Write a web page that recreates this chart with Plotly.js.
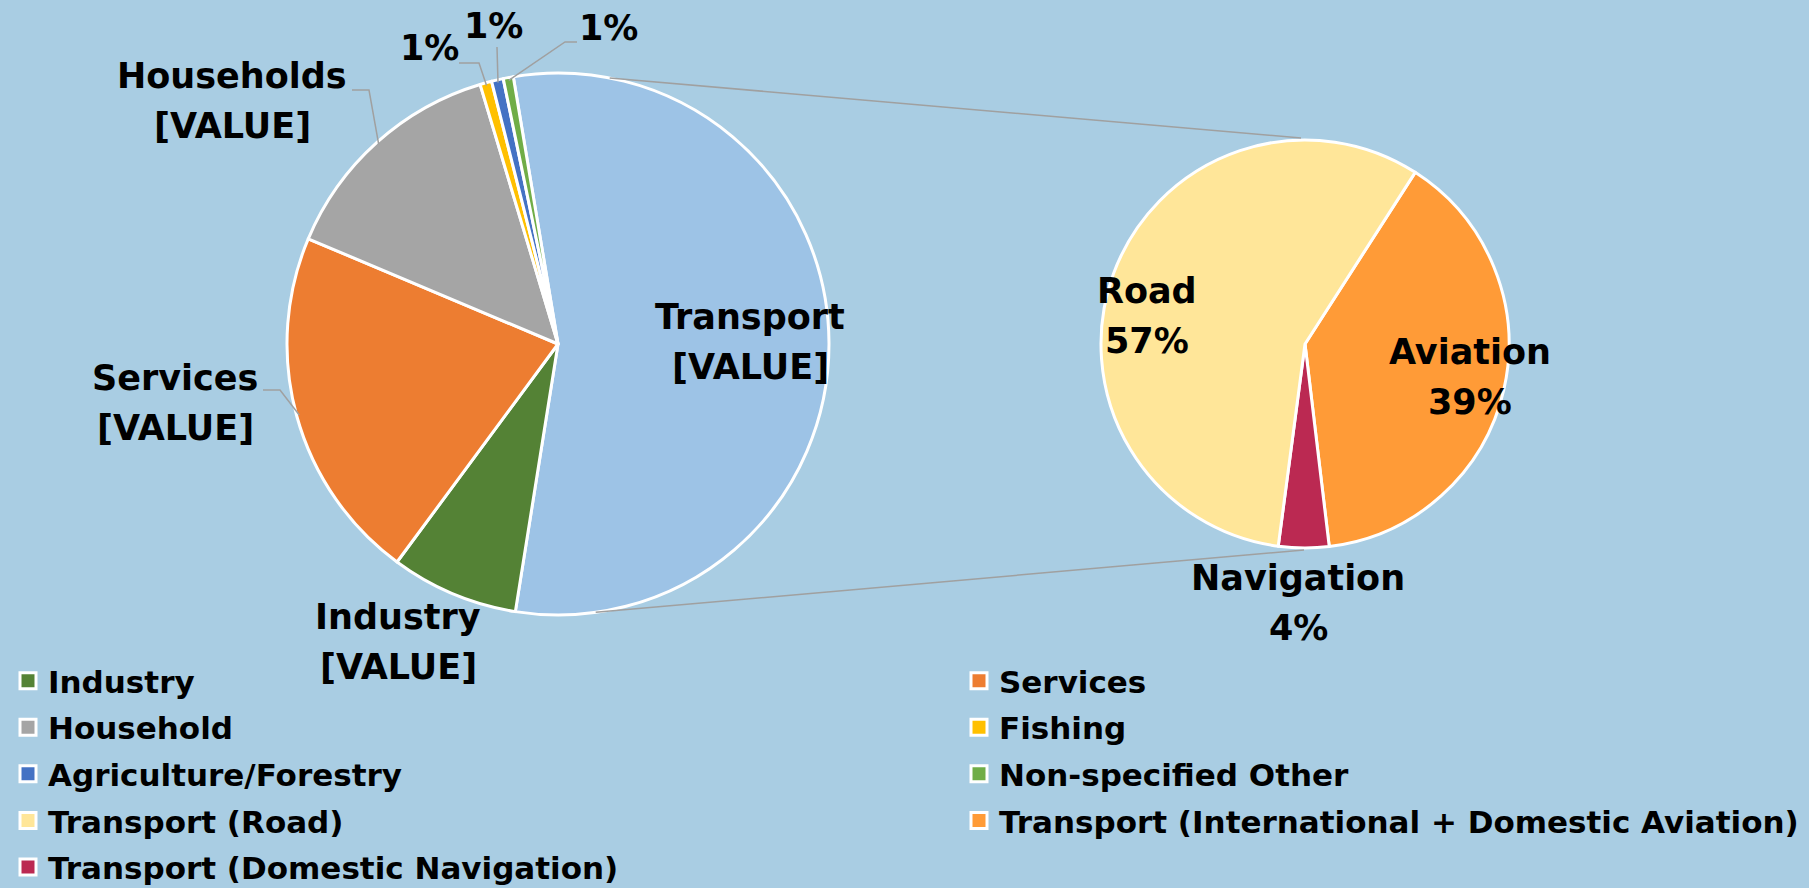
<!DOCTYPE html>
<html><head><meta charset="utf-8">
<script src="https://cdn.plot.ly/plotly-3.0.1.min.js"></script>
<style>html,body{margin:0;padding:0;background:#A9CDE3;} #chart{width:1809px;height:888px;}</style>
</head><body><div id="chart"></div>
<script>
// ---- data ----
const otherCategories = ['Industry', 'Services', 'Household', 'Fishing', 'Agriculture/Forestry', 'Non-specified Other'];
const otherLabels = ['Industry', 'Services', 'Households', '', '', ''];
const otherValues = [7.6, 21.2, 14.0, 0.7, 0.7, 0.6];
const otherColors = ['#548235', '#ED7D31', '#A5A5A5', '#FFC000', '#4472C4', '#70AD47'];

const transportCategories = ['Transport (International + Domestic Aviation)', 'Transport (Domestic Navigation)', 'Transport (Road)'];
const transportLabels = ['Aviation', 'Navigation', 'Road'];
const transportValues = [21.5, 2.2, 31.4];
const transportColors = ['#FF9B37', '#BB2952', '#FFE699'];
const transportMainLabel = 'Transport';
const transportMainColor = '#9DC3E6';
const valuePlaceholder = '[VALUE]';

const legendOrder = ['Industry', 'Services', 'Household', 'Fishing', 'Agriculture/Forestry', 'Non-specified Other',
  'Transport (Road)', 'Transport (International + Domestic Aviation)', 'Transport (Domestic Navigation)'];

// ---- layout geometry ----
const W = 1809, H = 888;
const MAIN = {cx: 558, cy: 344, r: 271, rot: -9.5};
const SUB = {cx: 1305, cy: 344, r: 204, rot: 32.7};
const FONT = 'DejaVu Sans';
const GRAY = '#A0A0A0';
const px = x => x / W, py = y => 1 - y / H;
const dom = g => ({x: [px(g.cx - g.r), px(g.cx + g.r)], y: [py(g.cy + g.r), py(g.cy - g.r)]});

const transportTotal = transportValues.reduce((a, b) => a + b, 0);
const mainValues = [transportTotal].concat(otherValues);
const mainTotal = mainValues.reduce((a, b) => a + b, 0);

function midAngle(values, rot, idx) {
  const tot = values.reduce((a, b) => a + b, 0);
  let a = rot;
  for (let i = 0; i < idx; i++) a += values[i] / tot * 360;
  return a + values[idx] / tot * 180;
}
function edge(g, deg, k) {
  const t = deg * Math.PI / 180; k = k || 1;
  return [g.cx + g.r * k * Math.sin(t), g.cy - g.r * k * Math.cos(t)];
}

const traces = [];
traces.push({
  type: 'pie', labels: [transportMainLabel].concat(otherCategories), values: mainValues,
  marker: {colors: [transportMainColor].concat(otherColors), line: {color: '#FFFFFF', width: 3}},
  sort: false, direction: 'clockwise', rotation: MAIN.rot, textinfo: 'none',
  hoverinfo: 'label+percent', showlegend: false, domain: dom(MAIN)
});
traces.push({
  type: 'pie', labels: transportCategories, values: transportValues,
  marker: {colors: transportColors, line: {color: '#FFFFFF', width: 3}},
  sort: false, direction: 'clockwise', rotation: SUB.rot, textinfo: 'none',
  hoverinfo: 'label+percent', showlegend: false, domain: dom(SUB)
});

const colorOf = {};
otherCategories.forEach((c, i) => colorOf[c] = otherColors[i]);
transportCategories.forEach((c, i) => colorOf[c] = transportColors[i]);
legendOrder.forEach((name, i) => {
  traces.push({
    type: 'scatter', mode: 'markers', x: [null], y: [null], name: name,
    legend: i % 2 === 0 ? 'legend' : 'legend2', legendgroup: name,
    marker: {symbol: 'square', size: 16, color: colorOf[name], line: {color: '#FFFFFF', width: 3}},
    hoverinfo: 'skip'
  });
});

const lblFont = {family: FONT, size: 35, color: '#000000', weight: 'bold'};
const ann = (x, y, text) => ({xref: 'paper', yref: 'paper', x: px(x), y: py(y), text: text,
  showarrow: false, xanchor: 'center', yanchor: 'middle', font: lblFont});
const label2 = (x, yc, l1, l2) => [ann(x, yc - 25, l1), ann(x, yc + 25, l2)];
const pct = (v, t) => Math.round(v / t * 100) + '%';

let annotations = [];
annotations = annotations.concat(label2(750, 342, transportMainLabel, valuePlaceholder));
annotations = annotations.concat(label2(398, 642, otherLabels[0], valuePlaceholder));
annotations = annotations.concat(label2(175, 403, otherLabels[1], valuePlaceholder));
annotations = annotations.concat(label2(232, 101, otherLabels[2], valuePlaceholder));
annotations.push(ann(429, 48, pct(otherValues[3], mainTotal)));
annotations.push(ann(494, 26, pct(otherValues[4], mainTotal)));
annotations.push(ann(608, 28, pct(otherValues[5], mainTotal)));
annotations = annotations.concat(label2(1470, 377, transportLabels[0], pct(transportValues[0], transportTotal)));
annotations = annotations.concat(label2(1298, 603, transportLabels[1], pct(transportValues[1], transportTotal)));
annotations = annotations.concat(label2(1147, 316, transportLabels[2], pct(transportValues[2], transportTotal)));

// leader lines
const shapes = [];
const path = pts => ({type: 'path', xref: 'paper', yref: 'paper', line: {color: GRAY, width: 1.5},
  path: pts.map((p, i) => (i ? 'L' : 'M') + px(p[0]) + ',' + py(p[1])).join(' ')});
const mainMid = i => midAngle(mainValues, MAIN.rot, i + 1);
shapes.push(path([[352, 90], [369, 90], edge(MAIN, mainMid(2), 0.99)]));
shapes.push(path([[263, 390], [280, 390], edge(MAIN, mainMid(1), 0.99)]));
shapes.push(path([[459, 63], [479, 63], edge(MAIN, mainMid(3), 0.99)]));
shapes.push(path([[497, 47], edge(MAIN, mainMid(4), 0.99)]));
shapes.push(path([[577, 42], [565, 42], edge(MAIN, mainMid(5), 0.99)]));
// connector lines between pies
shapes.push(path([edge(MAIN, 11), [SUB.cx - 4, SUB.cy - SUB.r - 2]]));
shapes.push(path([edge(MAIN, 172), [SUB.cx - 1, SUB.cy + SUB.r + 2]]));

const legendBase = {xanchor: 'left', yanchor: 'top', orientation: 'v', bgcolor: 'rgba(0,0,0,0)',
  font: {family: FONT, size: 31, color: '#000000', weight: 'bold'}, tracegroupgap: 3.3, itemwidth: 30};

const layout = {
  width: W, height: H, margin: {l: 0, r: 0, t: 0, b: 0, autoexpand: false},
  paper_bgcolor: '#A9CDE3', plot_bgcolor: '#A9CDE3',
  xaxis: {visible: false}, yaxis: {visible: false},
  showlegend: true,
  legend: Object.assign({}, legendBase, {x: px(8), y: py(654)}),
  legend2: Object.assign({}, legendBase, {x: px(959), y: py(654)}),
  annotations: annotations, shapes: shapes
};

Plotly.newPlot('chart', traces, layout, {displayModeBar: false, staticPlot: true});
</script>
</body></html>
